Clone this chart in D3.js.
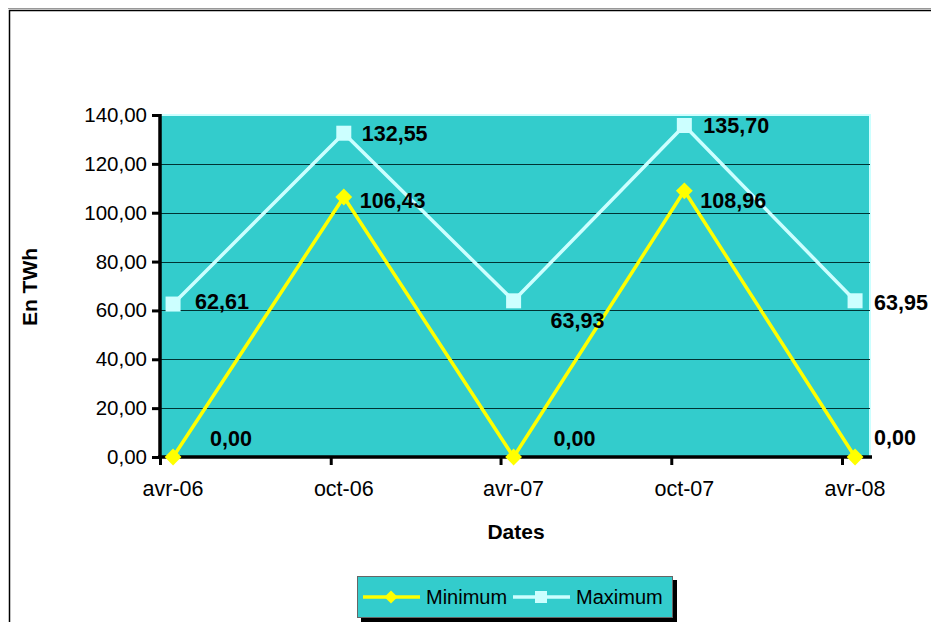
<!DOCTYPE html>
<html>
<head>
<meta charset="utf-8">
<script src="https://cdn.jsdelivr.net/npm/d3@7"></script>
<style>
  html, body { margin: 0; padding: 0; background: #fff; }
  svg { display: block; font-family: "Liberation Sans", Arial, sans-serif; }
</style>
</head>
<body>
<svg id="chart" width="931" height="622"></svg>
<script>
// ---- data ----
const categories = ["avr-06", "oct-06", "avr-07", "oct-07", "avr-08"];
const dates = ["2006-04-15", "2006-10-15", "2007-04-15", "2007-10-15", "2008-04-15"];
const minimumValues = [0.00, 106.43, 0.00, 108.96, 0.00];
const maximumValues = [62.61, 132.55, 63.93, 135.70, 63.95];
const yTicks = [0, 20, 40, 60, 80, 100, 120, 140];
const seriesNames = ["Minimum", "Maximum"];

// ---- layout ----
const svg = d3.select("#chart");
const W = 931, H = 622;
const plot = { left: 160, right: 870, top: 115, bottom: 457 };
const parse = d3.timeParse("%Y-%m-%d");
const fmt = v => d3.format(".2f")(v).replace(".", ",");

const x = d3.scaleTime()
  .domain([parse("2006-04-01"), parse("2008-05-01")])
  .range([plot.left, plot.right]);
const y = d3.scaleLinear().domain([0, 140]).range([plot.bottom, plot.top]);

const colors = { bg: "#33CCCC", min: "#FFFF00", max: "#CCFFFF" };

// outer frame
svg.append("line").attr("x1", 8).attr("x2", W).attr("y1", 8.5).attr("y2", 8.5)
  .attr("stroke", "#999").attr("stroke-width", 1);
svg.append("rect").attr("x", 9.5).attr("y", 10.5).attr("width", W).attr("height", H)
  .attr("fill", "none").attr("stroke", "#000").attr("stroke-width", 1.5);

// plot background
svg.append("rect")
  .attr("x", plot.left).attr("y", plot.top)
  .attr("width", plot.right - plot.left).attr("height", plot.bottom - plot.top)
  .attr("fill", colors.bg).attr("stroke", colors.max).attr("stroke-width", 2);

// gridlines
svg.append("g").selectAll("line").data(yTicks.filter(t => t > 0 && t < 140)).join("line")
  .attr("x1", plot.left).attr("x2", plot.right)
  .attr("y1", d => Math.round(y(d)) + 0.5).attr("y2", d => Math.round(y(d)) + 0.5)
  .attr("stroke", "#003333").attr("stroke-width", 1);

// y axis
const yAxis = d3.axisLeft(y).tickValues(yTicks).tickFormat(fmt).tickSize(8).tickPadding(5);
const gy = svg.append("g").attr("transform", `translate(${plot.left},0)`).call(yAxis);
gy.select(".domain").attr("stroke", "#000").attr("stroke-width", 3.5)
  .attr("d", `M0,${plot.top - 1}V${plot.bottom + 1}`);
gy.selectAll(".tick line").attr("stroke", "#000").attr("stroke-width", 3);
gy.selectAll(".tick text").attr("font-size", 20.5).attr("fill", "#000")
  .attr("font-family", "Liberation Sans, Arial, sans-serif");

// x axis: ticks at month starts, labels at data dates
const tickDates = [parse("2006-04-01"), parse("2006-10-01"), parse("2007-04-01"), parse("2007-10-01"), parse("2008-04-01")];
const xAxis = d3.axisBottom(x).tickValues(tickDates).tickFormat("").tickSize(8);
const gx = svg.append("g").attr("transform", `translate(0,${plot.bottom})`).call(xAxis);
gx.select(".domain").attr("stroke", "#000").attr("stroke-width", 3.5)
  .attr("d", `M${plot.left - 2},0H${plot.right + 2}`);
gx.selectAll(".tick line").attr("stroke", "#000").attr("stroke-width", 3);
svg.append("g").selectAll("text").data(categories).join("text")
  .attr("x", (d, i) => x(parse(dates[i])))
  .attr("y", 496)
  .attr("text-anchor", "middle")
  .attr("font-size", 21.5)
  .text(d => d);

// axis titles
svg.append("text").attr("x", 516).attr("y", 539).attr("text-anchor", "middle")
  .attr("font-size", 21).attr("font-weight", "bold").text("Dates");
svg.append("text").attr("transform", "translate(37,287) rotate(-90)")
  .attr("text-anchor", "middle").attr("font-size", 21).attr("font-weight", "bold").text("En TWh");

// series
const maxPts = maximumValues.map((v, i) => [x(parse(dates[i])), y(v), v]);
const minPts = minimumValues.map((v, i) => [x(parse(dates[i])), y(v), v]);
const line = d3.line();

svg.append("path").attr("d", line(maxPts.map(p => [p[0], p[1]])))
  .attr("fill", "none").attr("stroke", colors.max).attr("stroke-width", 3.5);
svg.append("g").selectAll("rect").data(maxPts).join("rect")
  .attr("x", d => d[0] - 7.5).attr("y", d => d[1] - 7.5)
  .attr("width", 15).attr("height", 15).attr("fill", colors.max);

svg.append("path").attr("d", line(minPts.map(p => [p[0], p[1]])))
  .attr("fill", "none").attr("stroke", colors.min).attr("stroke-width", 3.5);
const diamond = d3.symbol().type(d3.symbolDiamond2).size(180);
svg.append("g").selectAll("path").data(minPts).join("path")
  .attr("transform", d => `translate(${d[0]},${d[1]})`)
  .attr("d", diamond).attr("fill", colors.min);

// data labels (manual nudges as in original)
const maxNudge = [[22, -3], [18, 0], [37, 19], [19, 0], [19, 1]];
const minNudge = [[37, -19], [16, 3], [40, -19], [16, 9], [19, -20]];
function labels(pts, nudge) {
  svg.append("g").selectAll("text").data(pts).join("text")
    .attr("x", (d, i) => d[0] + nudge[i][0])
    .attr("y", (d, i) => d[1] + nudge[i][1])
    .attr("dy", "0.36em")
    .attr("font-size", 21.5).attr("font-weight", "bold")
    .text(d => fmt(d[2]));
}
labels(maxPts, maxNudge);
labels(minPts, minNudge);

// legend
const lg = svg.append("g");
lg.append("rect").attr("x", 361).attr("y", 580).attr("width", 316).attr("height", 42).attr("fill", "#000");
lg.append("rect").attr("x", 357.5).attr("y", 576.5).attr("width", 315).attr("height", 41)
  .attr("fill", colors.bg).attr("stroke", "#666").attr("stroke-width", 1);
const ly = 597;
lg.append("line").attr("x1", 363).attr("x2", 420).attr("y1", ly).attr("y2", ly)
  .attr("stroke", colors.min).attr("stroke-width", 3.5);
lg.append("path").attr("transform", `translate(391,${ly})`).attr("d", d3.symbol().type(d3.symbolDiamond2).size(110)).attr("fill", colors.min);
lg.append("text").attr("x", 426).attr("y", ly).attr("dy", "0.36em").attr("font-size", 20).text(seriesNames[0]);
lg.append("line").attr("x1", 513).attr("x2", 570).attr("y1", ly).attr("y2", ly)
  .attr("stroke", colors.max).attr("stroke-width", 3.5);
lg.append("rect").attr("x", 535).attr("y", ly - 6).attr("width", 12).attr("height", 12).attr("fill", colors.max);
lg.append("text").attr("x", 576).attr("y", ly).attr("dy", "0.36em").attr("font-size", 20).text(seriesNames[1]);
</script>
</body>
</html>
